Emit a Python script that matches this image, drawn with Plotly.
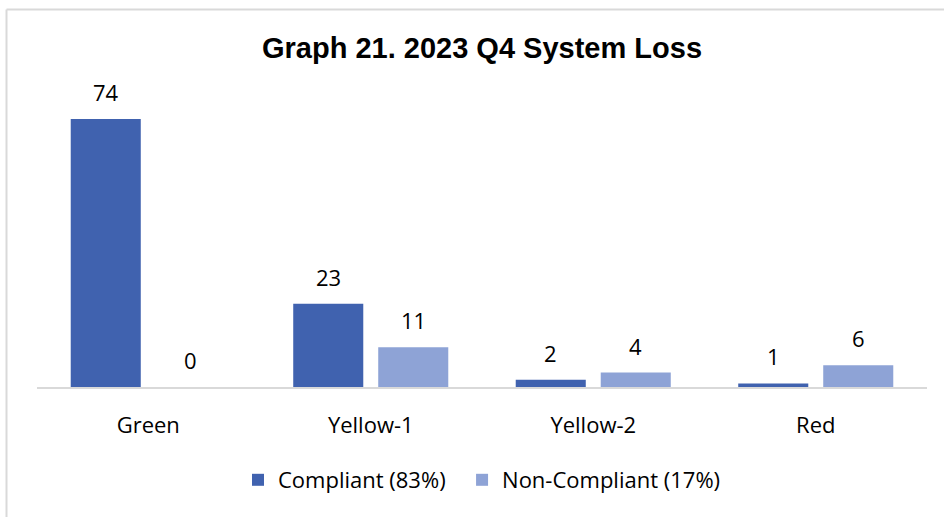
import plotly.graph_objects as go

categories = ["Green", "Yellow-1", "Yellow-2", "Red"]
compliant = [74, 23, 2, 1]
non_compliant = [0, 11, 4, 6]
series_names = ["Compliant (83%)", "Non-Compliant (17%)"]
title_text = "Graph 21. 2023 Q4 System Loss"

W, H = 944, 517
ML, MR, MT, MB = 37, 17, 80, 130
plot_w = W - ML - MR
plot_h = H - MT - MB

fig = go.Figure()
fig.add_trace(go.Bar(x=categories, y=compliant, name=series_names[0] + "&nbsp;&nbsp;",
                     marker=dict(color="#4062af", line=dict(width=0))))
fig.add_trace(go.Bar(x=categories, y=non_compliant, name=series_names[1],
                     marker=dict(color="#8ea3d6", line=dict(width=0))))

# data labels via annotations
slot = plot_w / len(categories) * (1 - 0.236) / 2
for i, vals in enumerate([compliant, non_compliant]):
    for c, v in zip(categories, vals):
        fig.add_annotation(x=c, y=v, text=str(v), showarrow=False,
                           xshift=(i - 0.5) * slot, yshift=10, yanchor="bottom",
                           font=dict(family="Open Sans", size=22, color="#000000"))

# chart border (top and left visible)
bx = (6.5 - ML) / plot_w
by = (H - MB - 9.5) / plot_h
fig.add_shape(type="line", xref="paper", yref="paper", x0=bx, x1=1.2, y0=by, y1=by,
              line=dict(color="#d9d9d9", width=2))
fig.add_shape(type="line", xref="paper", yref="paper", x0=bx, x1=bx, y0=by, y1=-0.6,
              line=dict(color="#d9d9d9", width=2))

fig.update_layout(
    width=W, height=H,
    margin=dict(l=ML, r=MR, t=MT, b=MB, pad=0),
    paper_bgcolor="white", plot_bgcolor="white",
    barmode="group", bargap=0.236, bargroupgap=0.176,
    title=dict(text="<b>" + title_text + "</b>", x=0.5, xref="paper", xanchor="center",
               y=1 - 48 / H, yanchor="middle",
               font=dict(family="Liberation Sans", size=29, color="#000000")),
    xaxis=dict(showline=True, linecolor="#d9d9d9", linewidth=2, ticks="",
               showgrid=False, zeroline=False, ticklabelstandoff=18,
               tickfont=dict(family="Open Sans", size=22, color="#000000")),
    yaxis=dict(visible=False, range=[0, plot_h / (268 / 74)], showgrid=False, zeroline=False),
    legend=dict(orientation="h", x=0.5, xanchor="center", y=(H - MB - 480) / plot_h,
                yanchor="middle", font=dict(family="Open Sans", size=22, color="#000000"),
                itemwidth=30, traceorder="normal"),
    showlegend=True,
    hovermode=False,
)

fig.write_html("out.html", config={"displayModeBar": False},
               post_script="document.body.style.margin='0';document.body.style.overflow='hidden';")
